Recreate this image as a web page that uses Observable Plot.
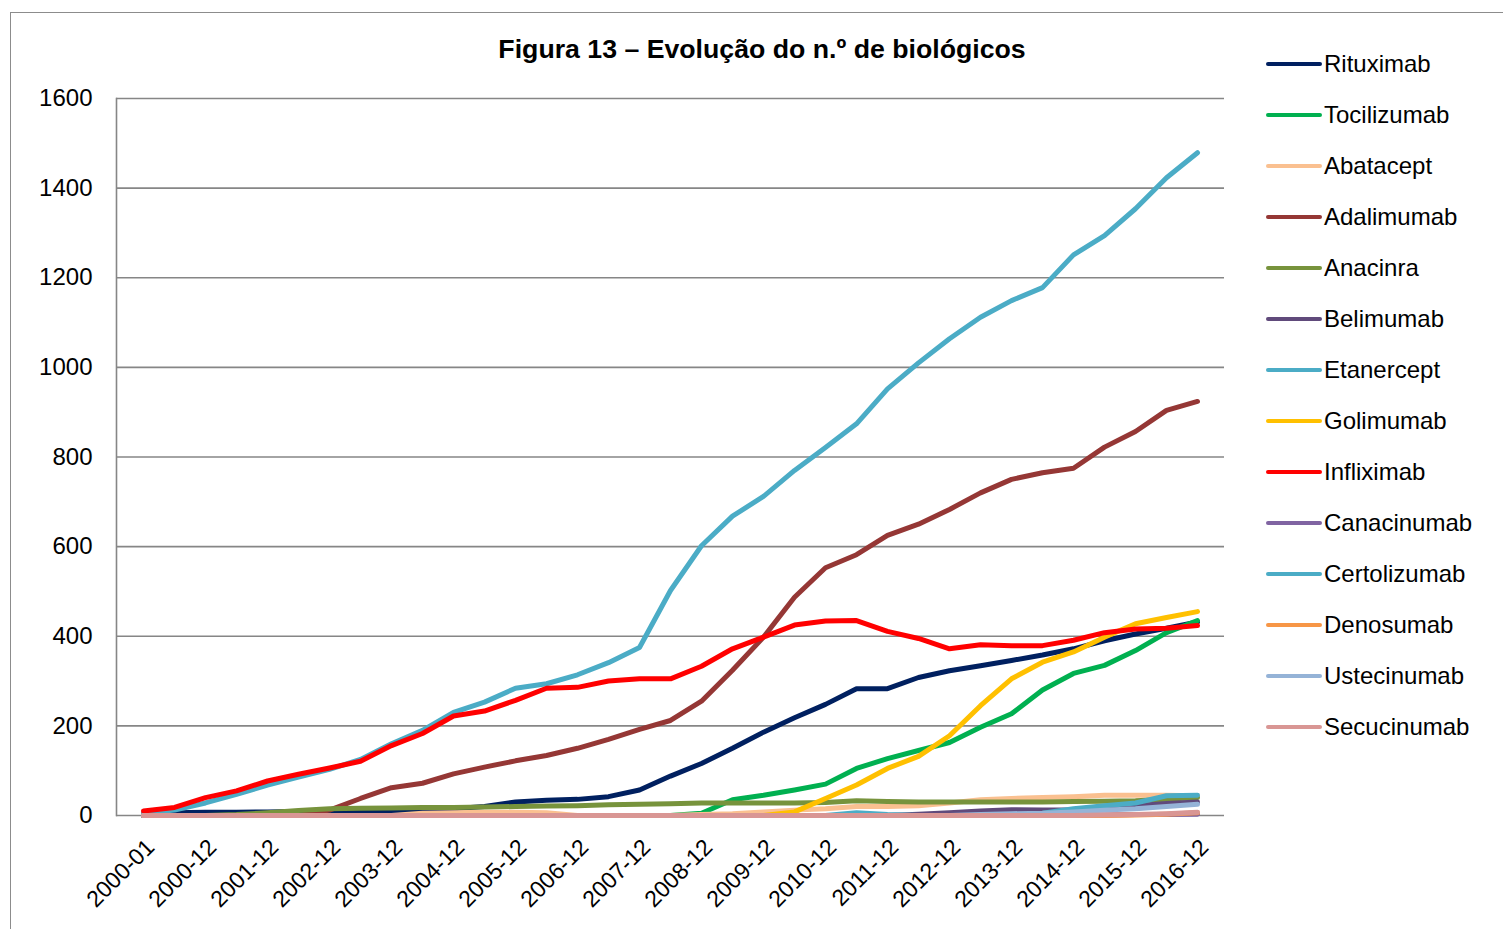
<!DOCTYPE html>
<html><head><meta charset="utf-8">
<script src="https://cdn.jsdelivr.net/npm/d3@7"></script>
<script src="https://cdn.jsdelivr.net/npm/@observablehq/plot@0.6"></script>
<style>
body{margin:0;background:#fff;width:1503px;height:929px;overflow:hidden;position:relative;font-family:"Liberation Sans",Arial,sans-serif;}
#frame{position:absolute;left:10px;top:12px;width:1600px;height:1000px;border:1px solid #8c8c8c;}
#chart{position:absolute;left:0;top:0;}
#title{position:absolute;left:0;width:1524px;top:34px;text-align:center;font-weight:bold;font-size:26.7px;line-height:30px;color:#000;}
#legend{position:absolute;left:0;top:0;}
.li{position:absolute;left:1265px;height:30px;display:flex;align-items:center;font-size:24px;color:#000;white-space:nowrap;}
.li svg{margin-right:1px;}
</style></head><body>
<div id="frame"></div>
<div id="chart"></div>
<div id="title">Figura 13 – Evolução do n.º de biológicos</div>
<div id="legend"></div>
<script>
const categories = ["2000-01","2000-06","2000-12","2001-06","2001-12","2002-06","2002-12","2003-06","2003-12","2004-06","2004-12","2005-06","2005-12","2006-06","2006-12","2007-06","2007-12","2008-06","2008-12","2009-06","2009-12","2010-06","2010-12","2011-06","2011-12","2012-06","2012-12","2013-06","2013-12","2014-06","2014-12","2015-06","2015-12","2016-06","2016-12"];
const xTickLabels = ["2000-01","2000-12","2001-12","2002-12","2003-12","2004-12","2005-12","2006-12","2007-12","2008-12","2009-12","2010-12","2011-12","2012-12","2013-12","2014-12","2015-12","2016-12"];
const yTicks = [0,200,400,600,800,1000,1200,1400,1600];

const seriesNames = ["Rituximab","Tocilizumab","Abatacept","Adalimumab","Anacinra","Belimumab","Etanercept","Golimumab","Infliximab","Canacinumab","Certolizumab","Denosumab","Ustecinumab","Secucinumab"];
const seriesColors = ["#002060","#00b050","#fac090","#953735","#77933c","#604a7b","#4bacc6","#ffc000","#ff0000","#8064a2","#4bacc6","#f79646","#95b3d7","#d99694"];

const rituximab    = [5,6,7,7,8,9,9,9,10,12,15,20,30,34,36,42,57,88,116,150,186,218,248,283,283,308,323,334,346,358,372,390,405,418,432];
const tocilizumab  = [0,0,0,0,0,0,0,0,0,0,0,0,0,0,0,0,0,0,5,35,45,57,70,105,127,145,163,197,227,280,317,335,368,408,435];
const abatacept    = [0,0,0,0,0,0,0,0,0,5,6,7,7,6,0,0,0,0,2,4,8,12,15,20,20,22,28,35,38,40,42,45,45,45,44];
const adalimumab   = [0,0,0,0,0,0,12,38,62,72,93,108,122,134,150,170,192,212,255,324,398,487,553,582,625,650,683,720,750,765,775,822,857,904,924];
const anacinra     = [0,0,0,2,6,11,15,16,17,18,18,19,20,21,22,24,25,26,28,28,28,28,29,33,31,30,30,30,30,30,31,32,33,36,40];
const belimumab    = [0,0,0,0,0,0,0,0,0,0,0,0,0,0,0,0,0,0,0,0,0,0,0,0,0,3,6,10,13,12,12,16,22,27,30];
const etanercept   = [5,12,28,47,68,86,103,125,160,190,230,253,284,294,314,341,375,502,602,668,712,770,821,874,952,1010,1064,1112,1149,1178,1251,1294,1354,1423,1479];
const golimumab    = [0,0,0,0,0,0,0,0,0,0,0,0,0,0,0,0,0,0,0,0,0,8,38,68,105,132,178,245,305,342,365,398,428,442,455];
const infliximab   = [10,18,40,55,77,92,106,121,156,183,222,233,257,284,286,300,305,305,333,372,398,425,434,435,411,395,372,381,379,379,391,408,416,418,424];
const canacinumab  = [0,0,0,0,0,0,0,0,0,0,0,0,0,0,0,0,0,0,0,0,0,0,0,0,0,0,0,0,0,0,1,1,2,2,3];
const certolizumab = [0,0,0,0,0,0,0,0,0,0,0,0,0,0,0,0,0,0,0,0,0,0,0,6,2,0,0,0,0,5,15,22,28,44,45];
const denosumab    = [0,0,0,0,0,0,0,0,0,0,0,0,0,0,0,0,0,0,0,0,0,0,0,0,0,0,0,0,0,0,0,0,1,3,6];
const ustecinumab  = [0,0,0,0,0,0,0,0,0,0,0,0,0,0,0,0,0,0,0,0,0,0,0,0,0,0,0,2,4,5,8,12,15,20,25];
const secucinumab  = [0,0,0,0,0,0,0,0,0,0,0,0,0,0,0,0,0,0,0,0,0,0,0,0,0,0,0,0,0,0,0,1,2,4,7];

const seriesValues = [rituximab,tocilizumab,abatacept,adalimumab,anacinra,belimumab,etanercept,golimumab,infliximab,canacinumab,certolizumab,denosumab,ustecinumab,secucinumab];

const rows = [];
seriesNames.forEach((name, s) => seriesValues[s].forEach((v, i) => rows.push({name, cat: categories[i], value: v})));

const lineMarks = seriesNames.map(name => Plot.line(rows.filter(d => d.name === name), {
  x: "cat", y: "value", stroke: "name", strokeWidth: 5, strokeLinejoin: "round", strokeLinecap: "round"
}));

const chart = Plot.plot({
  width: 1240, height: 929,
  marginLeft: 116, marginRight: 16, marginTop: 98, marginBottom: 114,
  style: {fontFamily: "'Liberation Sans', Arial, sans-serif", fontSize: "23px", background: "transparent", color: "#000", overflow: "visible"},
  x: {type: "point", domain: categories, padding: 0.5},
  y: {domain: [0, 1600]},
  color: {domain: seriesNames, range: seriesColors},
  marks: [
    Plot.gridY(yTicks.slice(1), {stroke: "#868686", strokeOpacity: 1, strokeWidth: 1.6}),
    Plot.frame({anchor: "left", stroke: "#868686", strokeWidth: 1.6}),
    Plot.ruleY([0], {stroke: "#868686", strokeWidth: 1.6}),
    Plot.axisY({ticks: yTicks, tickSize: 0, tickPadding: 24, tickFormat: d => String(d), fontSize: 24, label: null}),
    Plot.axisX({ticks: xTickLabels, tickSize: 0, tickPadding: 28, dx: 7, tickRotate: -45, fontSize: 23, label: null}),
    ...lineMarks
  ]
});
document.getElementById("chart").appendChild(chart);

const legend = document.getElementById("legend");
seriesNames.forEach((name, i) => {
  const div = document.createElement("div");
  div.className = "li";
  div.style.top = (49 + 51 * i) + "px";
  div.innerHTML = `<svg width="58" height="10"><line x1="3" y1="5" x2="55" y2="5" stroke="${seriesColors[i]}" stroke-width="4" stroke-linecap="round"/></svg><span>${name}</span>`;
  legend.appendChild(div);
});
</script>
</body></html>
